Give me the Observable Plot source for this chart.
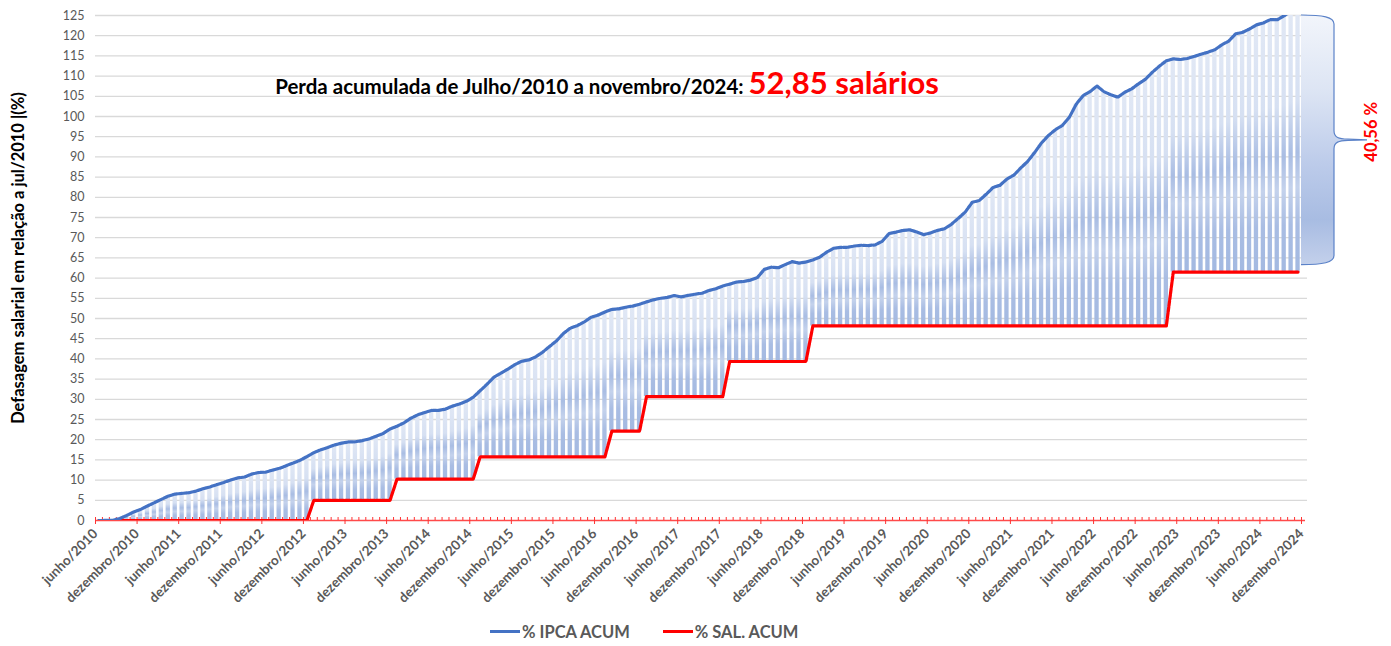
<!DOCTYPE html>
<html>
<head>
<meta charset="utf-8">
<script src="https://cdn.jsdelivr.net/npm/d3@7"></script>
<script src="https://cdn.jsdelivr.net/npm/@observablehq/plot@0.6"></script>
<style>
  html, body { margin: 0; padding: 0; background: #ffffff; }
  body { width: 1391px; height: 646px; overflow: hidden; font-family: Lato, "Open Sans", sans-serif; }
  #legend { display: flex; align-items: center; height: 29px; padding-top: 12px; margin-left: 490px; gap: 33px; }
  .item { display: flex; align-items: center; font-weight: bold; font-size: 16.5px; color: #595959; }
  .sw { width: 30px; height: 3px; margin-right: 2px; }
</style>
</head>
<body>
<div id="chart"></div>
<div id="legend"></div>
<script>
// ---- tick labels (every 6 months, at month slots 0,6,...,174) ----
const tickLabels = [
  "junho/2010","dezembro/2010","junho/2011","dezembro/2011","junho/2012","dezembro/2012",
  "junho/2013","dezembro/2013","junho/2014","dezembro/2014","junho/2015","dezembro/2015",
  "junho/2016","dezembro/2016","junho/2017","dezembro/2017","junho/2018","dezembro/2018",
  "junho/2019","dezembro/2019","junho/2020","dezembro/2020","junho/2021","dezembro/2021",
  "junho/2022","dezembro/2022","junho/2023","dezembro/2023","junho/2024","dezembro/2024"
];
const yTicks = [0,5,10,15,20,25,30,35,40,45,50,55,60,65,70,75,80,85,90,95,100,105,110,115,120,125];

// ---- % IPCA ACUM, monthly, jun/2010 .. nov/2024 ----
const ipcaAcum = [
  0, 0.01, 0.05, 0.50, 1.25, 2.09, 2.74,
  3.59, 4.42, 5.24, 6.05, 6.55, 6.71, 6.88, 7.28, 7.85, 8.31, 8.87, 9.42,
  10.03, 10.53, 10.76, 11.47, 11.87, 11.96, 12.44, 12.90, 13.54, 14.21, 14.90, 15.81,
  16.80, 17.50, 18.06, 18.71, 19.14, 19.45, 19.49, 19.78, 20.20, 20.88, 21.53, 22.65,
  23.33, 24.18, 25.32, 26.16, 26.74, 27.25, 27.26, 27.58, 28.31, 28.84, 29.50, 30.51,
  32.13, 33.74, 35.51, 36.47, 37.48, 38.57, 39.42, 39.73, 40.49, 41.64, 43.07, 44.44,
  46.28, 47.59, 48.23, 49.13, 50.30, 50.82, 51.61, 52.27, 52.39, 52.79, 53.07, 53.52,
  54.11, 54.62, 55.00, 55.22, 55.70, 55.34, 55.72, 56.01, 56.26, 56.92, 57.36, 58.05,
  58.51, 59.02, 59.16, 59.51, 60.15, 62.16, 62.70, 62.55, 63.33, 64.07, 63.72, 63.97,
  64.49, 65.20, 66.44, 67.39, 67.61, 67.62, 67.94, 68.13, 68.06, 68.23, 69.09, 71.03,
  71.39, 71.82, 71.94, 71.41, 70.75, 71.20, 71.81, 72.23, 73.33, 74.82, 76.38, 78.76,
  79.20, 80.74, 82.43, 82.99, 84.51, 85.49, 87.27, 88.90, 91.09, 93.48, 95.32, 96.74,
  97.80, 99.80, 103.04, 105.19, 106.16, 107.54, 106.13, 105.38, 104.79, 106.00, 106.84, 108.12,
  109.23, 110.98, 112.48, 113.78, 114.27, 114.10, 114.36, 114.85, 115.41, 115.92, 116.53, 117.74,
  118.66, 120.47, 120.82, 121.66, 122.68, 123.15, 124.00, 123.95, 124.94, 126.20, 126.97
];

// ---- % SAL. ACUM, monthly, jun/2010 .. nov/2024 ----
const salAcum = [
  0, 0, 0, 0, 0, 0, 0,
  0, 0, 0, 0, 0, 0, 0, 0, 0, 0, 0, 0,
  0, 0, 0, 0, 0, 0, 0, 0, 0, 0, 0, 0,
  5, 5, 5, 5, 5, 5, 5, 5, 5, 5, 5, 5,
  10.25, 10.25, 10.25, 10.25, 10.25, 10.25, 10.25, 10.25, 10.25, 10.25, 10.25, 10.25,
  15.76, 15.76, 15.76, 15.76, 15.76, 15.76, 15.76, 15.76, 15.76, 15.76, 15.76, 15.76,
  15.76, 15.76, 15.76, 15.76, 15.76, 15.76, 15.76, 22.13, 22.13, 22.13, 22.13, 22.13,
  30.66, 30.66, 30.66, 30.66, 30.66, 30.66, 30.66, 30.66, 30.66, 30.66, 30.66, 30.66,
  39.36, 39.36, 39.36, 39.36, 39.36, 39.36, 39.36, 39.36, 39.36, 39.36, 39.36, 39.36,
  48.15, 48.15, 48.15, 48.15, 48.15, 48.15, 48.15, 48.15, 48.15, 48.15, 48.15, 48.15,
  48.15, 48.15, 48.15, 48.15, 48.15, 48.15, 48.15, 48.15, 48.15, 48.15, 48.15, 48.15,
  48.15, 48.15, 48.15, 48.15, 48.15, 48.15, 48.15, 48.15, 48.15, 48.15, 48.15, 48.15,
  48.15, 48.15, 48.15, 48.15, 48.15, 48.15, 48.15, 48.15, 48.15, 48.15, 48.15, 48.15,
  48.15, 48.15, 48.15, 48.15, 61.48, 61.48, 61.48, 61.48, 61.48, 61.48, 61.48, 61.48,
  61.48, 61.48, 61.48, 61.48, 61.48, 61.48, 61.48, 61.48, 61.48, 61.48, 61.48
];

const seriesNames = ["% IPCA ACUM", "% SAL. ACUM"];
const seriesColors = ["#4472c4", "#ff0000"];
const titleText = "Perda acumulada de Julho/2010 a novembro/2024: ";
const titleValue = "52,85 salários";
const gapLabel = "40,56 %";
const yTitle = "Defasagem salarial em relação a jul/2010 |(%)";

// ---- build ----
const nSlots = tickLabels.length * 6 - 6; // 174 month slots
const data = ipcaAcum.map((v, i) => ({i, ipca: v, sal: salAcum[i]}));
const monthTicks = d3.range(0, nSlots + 1);
const majorTicks = tickLabels.map((_, k) => k * 6);
const yMax = yTicks[yTicks.length - 1];

const plot = Plot.plot({
  width: 1391,
  height: 605,
  marginLeft: 95,
  marginRight: 90,
  marginTop: 15,
  marginBottom: 85,
  style: {fontFamily: "Lato, 'Open Sans', sans-serif", background: "#ffffff", overflow: "visible"},
  x: {domain: [0, nSlots], axis: null},
  y: {domain: [0, yMax], axis: null},
  marks: [
    Plot.ruleY(yTicks.filter(d => d > 0), {stroke: "#d9d9d9", strokeWidth: 1.3, insetRight: -6}),
    Plot.axisY({ticks: yTicks, tickSize: 0, tickPadding: 11, fontSize: 12.5, fill: "#595959", label: null}),
    Plot.rect(data, {
      x1: "i", x2: d => d.i + 1, y1: "sal", y2: "ipca",
      insetLeft: 1.3, insetRight: 1.3, fill: "url(#barGrad)", clip: true
    }),
    Plot.ruleY([0], {stroke: "#ff4a4a", strokeWidth: 1.5, insetRight: -4}),
    Plot.axisX({ticks: monthTicks, tickSize: 3, dy: -3, tickFormat: () => "", stroke: "#ff3333", label: null}),
    Plot.axisX({
      ticks: majorTicks, tickSize: 4, tickPadding: 7, tickRotate: -45,
      tickFormat: d => tickLabels[Math.round(d / 6)],
      stroke: "#ff3333", fill: "#595959", fontSize: 13.5, fontWeight: "bold", label: null
    }),
    Plot.line(data, {x: d => d.i + 0.5, y: "sal", stroke: seriesColors[1], strokeWidth: 3.2, strokeDasharray: "5,1.2", clip: true}),
    Plot.line(data, {x: d => d.i + 0.5, y: "ipca", stroke: seriesColors[0], strokeWidth: 3.2, strokeDasharray: "3.6,1.4", clip: true})
  ]
});

document.getElementById("chart").appendChild(plot);

// ---- gradients, bracket and annotations (positions derived from the plot's scales) ----
const svg = d3.select(plot);
const defs = svg.insert("defs", ":first-child");
const bg = defs.append("linearGradient").attr("id", "barGrad")
  .attr("x1", 0).attr("y1", 0).attr("x2", 0).attr("y2", 1);
[[0, "#e1e8f5"], [0.35, "#d6e0f2"], [0.55, "#a9bde3"], [0.68, "#c4d2ec"], [0.82, "#a9bde3"], [1, "#a3b9e1"]]
  .forEach(([o, c]) => bg.append("stop").attr("offset", o).attr("stop-color", c));
const brg = defs.append("linearGradient").attr("id", "braceGrad")
  .attr("x1", 0).attr("y1", 0).attr("x2", 0).attr("y2", 1);
[[0, "#f2f5fb"], [0.3, "#dde5f4"], [0.6, "#bccbea"], [0.82, "#a8bce2"], [1, "#c3d0eb"]]
  .forEach(([o, c]) => brg.append("stop").attr("offset", o).attr("stop-color", c));

const sx = plot.scale("x"), sy = plot.scale("y");
const last = data[data.length - 1];
const xl = sx.apply(nSlots);
const yt = sy.apply(Math.min(last.ipca, yMax));
const yb = sy.apply(last.sal) - 7;
const ym = (yt + yb) / 2;
const xr = xl + 33, xt = xl + 66;
const bodyPath = `M${xl},${yt} C${xl + 22},${yt} ${xr},${yt + 2} ${xr},${yt + 9}
  L${xr},${ym - 9} C${xr},${ym - 2} ${xr + 5},${ym - 1} ${xr + 14},${ym - 0.6}
  L${xt},${ym} L${xr + 14},${ym + 0.6} C${xr + 5},${ym + 1} ${xr},${ym + 2} ${xr},${ym + 9}
  L${xr},${yb - 9} C${xr},${yb - 2} ${xl + 22},${yb} ${xl},${yb}`;
svg.append("path").attr("d", bodyPath + " Z").attr("fill", "url(#braceGrad)").attr("stroke", "none");
svg.append("path").attr("d", bodyPath).attr("fill", "none").attr("stroke", "#5b82c8").attr("stroke-width", 1.2);

svg.append("text")
  .attr("transform", `translate(${xt + 4},${ym - 8}) rotate(-90)`)
  .attr("text-anchor", "middle").attr("dominant-baseline", "central")
  .attr("fill", "#ff0000").attr("font-weight", "bold").attr("font-size", 16.5)
  .attr("font-family", "Lato, sans-serif")
  .text(gapLabel);

// title annotation inside the plot area
const title = svg.append("text")
  .attr("x", sx.apply(26)).attr("y", sy.apply(105.4))
  .attr("text-anchor", "start")
  .attr("font-family", "Lato, sans-serif").attr("font-weight", "bold");
title.append("tspan").attr("fill", "#000000").attr("font-size", 20.5).text(titleText);
title.append("tspan").attr("fill", "#ff0000").attr("font-size", 31).text(titleValue);

// y-axis title
svg.append("text")
  .attr("transform", `translate(18,${(sy.apply(0) + sy.apply(yMax)) / 2 - 9.5}) rotate(-90)`)
  .attr("text-anchor", "middle").attr("dominant-baseline", "central")
  .attr("font-family", "Lato, sans-serif").attr("font-weight", "bold").attr("font-size", 16.5)
  .attr("fill", "#000000")
  .text(yTitle);

// legend
const legend = d3.select("#legend");
seriesNames.forEach((name, k) => {
  const it = legend.append("div").attr("class", "item");
  it.append("div").attr("class", "sw").style("background", seriesColors[k]);
  it.append("span").text(name);
});
</script>
</body>
</html>
